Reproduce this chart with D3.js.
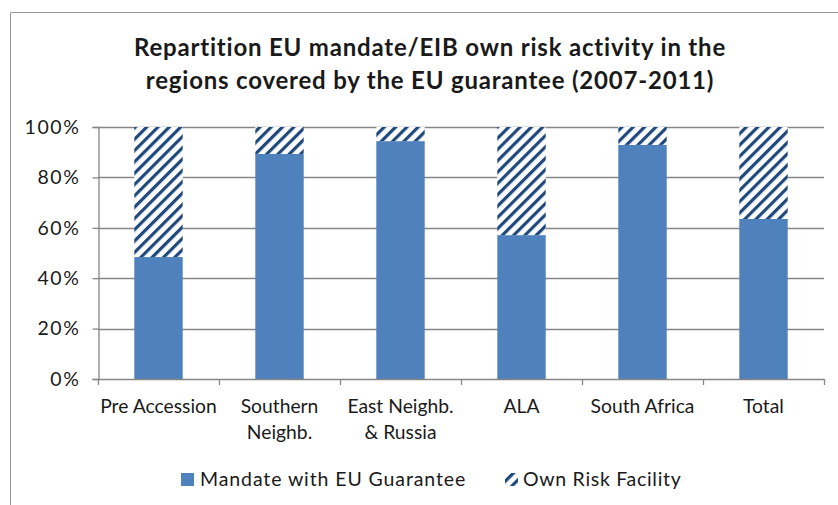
<!DOCTYPE html>
<html><head><meta charset="utf-8">
<script src="https://cdn.jsdelivr.net/npm/d3@7"></script>
<style>body{margin:0;background:#fff}svg{display:block}text{font-family:Lato,"Open Sans",sans-serif;fill:#1a1a1a}</style>
</head><body><svg id="c" width="838" height="505"></svg>
<script>
const categories = [["Pre Accession"],["Southern","Neighb."],["East Neighb.","& Russia"],["ALA"],["South Africa"],["Total"]];
const mandate = [0.484, 0.893, 0.944, 0.571, 0.929, 0.635];
const ownRisk = mandate.map(v => 1 - v);
const yTicks = [0, 0.2, 0.4, 0.6, 0.8, 1.0];
const seriesNames = ["Mandate with EU Guarantee", "Own Risk Facility"];
const titleLines = ["Repartition EU mandate/EIB own risk activity in the", "regions covered by the EU guarantee (2007-2011)"];

const svg = d3.select("#c");
const blue = "#4F81BD", navy = "#1F497D", grid = "#868686";

const defs = svg.append("defs");
const pat = defs.append("pattern").attr("id","hatch").attr("patternUnits","userSpaceOnUse")
  .attr("width",8).attr("height",8).attr("patternTransform","rotate(45)");
pat.append("rect").attr("width",8).attr("height",8).attr("fill","#fff");
pat.append("rect").attr("x",0).attr("y",0).attr("width",3.2).attr("height",8).attr("fill",navy);

// outer border
svg.append("path").attr("d","M10.5,505 L10.5,12.5 L838,12.5").attr("fill","none").attr("stroke","#9a9a9a").attr("stroke-width",1);

const m = {l:98, r:824, t:127, b:379};
const x = d3.scaleBand().domain(d3.range(categories.length)).range([m.l, m.r]).paddingInner(0.6).paddingOuter(0.3);
const xb = d3.scaleBand().domain(d3.range(categories.length)).range([m.l, m.r]);
const y = d3.scaleLinear().domain([0,1]).range([m.b, m.t]);

// title
const t = svg.append("text").attr("text-anchor","middle").attr("font-weight","bold").attr("font-size",24).attr("letter-spacing",0.8);
titleLines.forEach((l,i)=> t.append("tspan").attr("x",430).attr("y",56+i*33).text(l));

// gridlines
svg.append("g").selectAll("line").data(yTicks.slice(1)).join("line")
  .attr("x1",m.l).attr("x2",m.r).attr("y1",d=>Math.round(y(d))+0.5).attr("y2",d=>Math.round(y(d))+0.5)
  .attr("stroke",grid).attr("stroke-width",1.3);

// bars
const g = svg.append("g");
g.selectAll(".m").data(mandate).join("rect").attr("x",(d,i)=>x(i)).attr("width",x.bandwidth())
  .attr("y",d=>y(d)).attr("height",d=>y(0)-y(d)).attr("fill",blue);
g.selectAll(".o").data(ownRisk).join("rect").attr("x",(d,i)=>x(i)).attr("width",x.bandwidth())
  .attr("y",(d,i)=>y(mandate[i]+d)).attr("height",(d,i)=>y(mandate[i])-y(mandate[i]+d)).attr("fill","url(#hatch)");

// y axis
const ya = d3.axisLeft(y).tickValues(yTicks).tickFormat(d3.format(".0%")).tickSize(6).tickPadding(12);
const yg = svg.append("g").attr("transform",`translate(${m.l+0.5},0)`).call(ya);
yg.select(".domain").attr("stroke",grid).attr("stroke-width",1.3);
yg.selectAll(".tick line").attr("stroke",grid).attr("stroke-width",1.3);
yg.selectAll(".tick text").attr("font-size",19.5).attr("letter-spacing",1.6).attr("font-family","Lato,sans-serif").attr("fill","#1a1a1a");

// x axis
const xa = svg.append("g");
xa.append("line").attr("x1",m.l).attr("x2",m.r).attr("y1",m.b+0.5).attr("y2",m.b+0.5).attr("stroke",grid).attr("stroke-width",1.3);
const bounds = d3.range(categories.length+1).map(i=> i<categories.length ? xb(i) : m.r);
xa.selectAll(".tk").data(bounds).join("line").attr("x1",d=>d+0.5).attr("x2",d=>d+0.5)
  .attr("y1",m.b).attr("y2",m.b+6).attr("stroke",grid).attr("stroke-width",1.3);
const lab = xa.selectAll(".lab").data(categories).join("text").attr("text-anchor","middle").attr("font-size",19.3);
lab.each(function(d,i){
  const s=d3.select(this);
  d.forEach((l,j)=> s.append("tspan").attr("x",xb(i)+xb.bandwidth()/2).attr("y",413+j*25.5).text(l));
});

// legend
const lg = svg.append("g");
lg.append("rect").attr("x",181).attr("y",473).attr("width",13).attr("height",13).attr("fill",blue);
lg.append("text").attr("x",200).attr("y",486).attr("font-size",19.5).attr("letter-spacing",0.9).text(seriesNames[0]);
lg.append("rect").attr("x",505).attr("y",473).attr("width",13).attr("height",13).attr("fill","url(#hatch)");
lg.append("text").attr("x",523).attr("y",486).attr("font-size",19.5).attr("letter-spacing",0.7).text(seriesNames[1]);
</script></body></html>
